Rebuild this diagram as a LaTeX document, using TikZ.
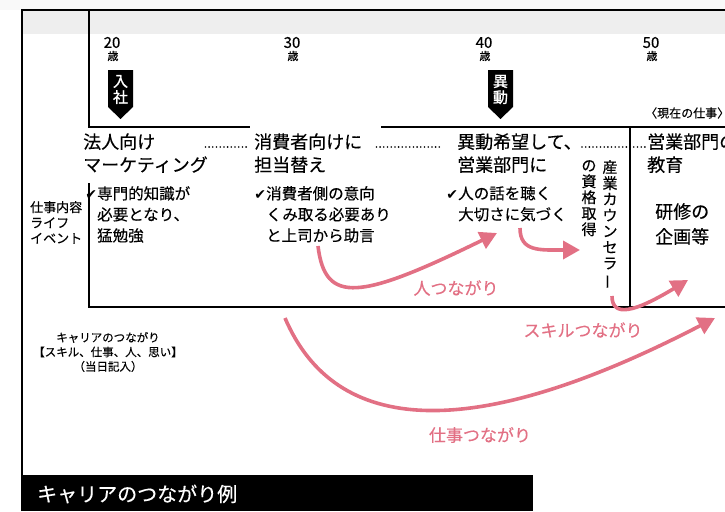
\documentclass[tikz,border=0pt]{standalone}
\usepackage{fontspec}
\usepackage{graphicx}
\setmainfont{Noto Sans CJK JP}[FakeBold=0.3]
\newfontfamily\checkfont{DejaVu Sans}
\newfontfamily\heavyjp{Noto Sans CJK JP}[FakeBold=1.4]
\usetikzlibrary{arrows.meta}
\definecolor{linkpink}{RGB}{226,112,132}
\definecolor{bandgray}{RGB}{238,238,238}
\tikzset{
  stage/.style={font=\fontsize{18}{23}\selectfont, inner sep=0pt, anchor=base west},
  note/.style={font=\fontsize{15.5}{21}\selectfont, inner sep=0pt, anchor=north west, align=left},
  side/.style={font=\fontsize{12}{14}\selectfont, inner sep=0pt, align=left},
  agenum/.style={font=\fontsize{15}{15}\selectfont, inner sep=0pt},
  sai/.style={font=\fontsize{11}{11}\selectfont, inner sep=0pt},
  tagtext/.style={font=\heavyjp\fontsize{15}{16}\selectfont, text=white, align=center, inner sep=0pt},
  vtext/.style={font=\fontsize{15}{16}\selectfont, align=center, inner sep=0pt, anchor=north},
  linklabel/.style={font=\fontsize{17}{17}\selectfont, text=linkpink, inner sep=0pt},
  leader/.style={line width=1.8pt, line cap=round, dash pattern=on 0pt off 3.7pt},
  link/.style={linkpink, line width=3.6pt, -{Triangle[length=17pt,width=18pt]}},
}
\newcommand{\chk}{\llap{{\checkfont\fontsize{14}{14}\selectfont ✔}}}
\newcommand{\chouon}{\rotatebox[origin=c]{90}{ー}}
\begin{document}
\begin{tikzpicture}[x=1pt,y=-1pt]
  \clip (0,0) rectangle (725,511);
  \fill[gray!5] (0,0) rectangle (725,10);
  \fill[bandgray] (22,10) rectangle (725,34);
  % frame
  \draw[line width=1.2pt] (22,511) -- (22,10) -- (725,10);
  \draw[line width=2.6pt] (89,10) -- (89,127) -- (250,127);
  \draw[line width=2.6pt] (381,127) -- (725,127);
  \draw[line width=1.4pt] (630,127) -- (630,307);
  \draw[line width=1.2pt] (89,183) -- (89,307) -- (725,307);
  % ages
  \node[agenum] (a20) at (112,42.5) {20};
  \node[sai] (s20) at (113,56) {歳};
  \node[agenum] (a30) at (292,42.5) {30};
  \node[sai] (s30) at (293,56) {歳};
  \node[agenum] (a40) at (484,42.5) {40};
  \node[sai] (s40) at (485,56) {歳};
  \node[agenum] (a50) at (651,42.5) {50};
  \node[sai] (s50) at (652,56) {歳};
  % tags
  \fill (108,70) -- (133,70) -- (133,107) -- (120.5,119) -- (108,107) -- cycle;
  \node[tagtext] (nyusha) at (120.5,89.5) {入\\社};
  \fill (488,70) -- (513,70) -- (513,107) -- (500.5,119) -- (488,107) -- cycle;
  \node[tagtext] (idoutag) at (500.5,89.5) {異\\動};
  \node[side, anchor=west] (genzai) at (645,113) {〈現在の仕事〉};
  % stages
  \node[stage] (houjin) at (83,148.5) {法人向け};
  \node[stage] (houjin2) at (83,171.5) {マーケティング};
  \node[stage] (shouhi) at (254,148.5) {消費者向けに};
  \node[stage] (shouhi2) at (254,171.5) {担当替え};
  \node[stage] (idou) at (457,148.5) {異動希望して、};
  \node[stage] (idou2) at (457,171.5) {営業部門に};
  \node[stage] (eigyou) at (647,148.5) {営業部門の};
  \node[stage] (eigyou2) at (647,171.5) {教育};
  \draw[leader] ([xshift=50pt,yshift=1.5pt]houjin.base east) -- ([xshift=-6pt,yshift=1.5pt]shouhi.base west);
  \draw[leader] ([xshift=14pt,yshift=1.5pt]shouhi.base east) -- ([xshift=-15pt,yshift=1.5pt]idou.base west);
  \draw[leader] ([yshift=1.5pt]idou.base east) -- ([xshift=-2pt,yshift=1.5pt]eigyou.base west);
  % notes
  \node[note] (senmon) at (97,186) {\chk 専門的知識が\\必要となり、\\猛勉強};
  \node[note] (ikou) at (266,186) {\chk 消費者側の意向\\くみ取る必要あり\\と上司から助言};
  \node[note] (kiku) at (458,186) {\chk 人の話を聴く\\大切さに気づく};
  \node[note, font=\fontsize{18}{25}\selectfont] (kenshu) at (655,203) {研修の\\企画等};
  \node[vtext] (sangyou) at (610,160) {産\\業\\カ\\ウ\\ン\\セ\\ラ\\\chouon};
  \node[vtext] (shikaku) at (589,160) {の\\資\\格\\取\\得};
  % side labels
  \node[side, anchor=north west, font=\fontsize{13}{15.5}\selectfont] (naiyou) at (30,201) {仕事内容\\ライフ\\イベント};
  \node[side, align=center, font=\fontsize{11.5}{14.5}\selectfont] (career) at (108,352) {キャリアのつながり\\【スキル、仕事、人、思い】\\（当日記入）};
  % links
  \coordinate (hitoS) at (318,246);
  \coordinate (hitoT) at (497,233);
  \coordinate (kizukuS) at (520,228);
  \coordinate (kizukuT) at (580,250);
  \coordinate (skillS) at (612,296);
  \coordinate (skillT) at (688,280);
  \coordinate (shigotoS) at (285,318);
  \coordinate (shigotoT) at (715,318);
  \draw[link] (hitoS) .. controls (325,305) and (360,300) .. (hitoT);
  \draw[link] (kizukuS) .. controls (520,252) and (540,250) .. (kizukuT);
  \draw[link] (skillS) .. controls (612,318) and (635,312) .. (skillT);
  \draw[link] (shigotoS) .. controls (335,435) and (470,445) .. (shigotoT);
  \node[linklabel] (hitoL) at (456,288) {人つながり};
  \node[linklabel] (skillL) at (583,330) {スキルつながり};
  \node[linklabel] (shigotoL) at (480,435) {仕事つながり};
  % title bar
  \fill (22,475) rectangle (533,511);
  \node[font=\fontsize{20}{20}\selectfont, text=white, anchor=west, inner sep=0pt] (title) at (37,494) {キャリアのつながり例};
\end{tikzpicture}
\end{document}
